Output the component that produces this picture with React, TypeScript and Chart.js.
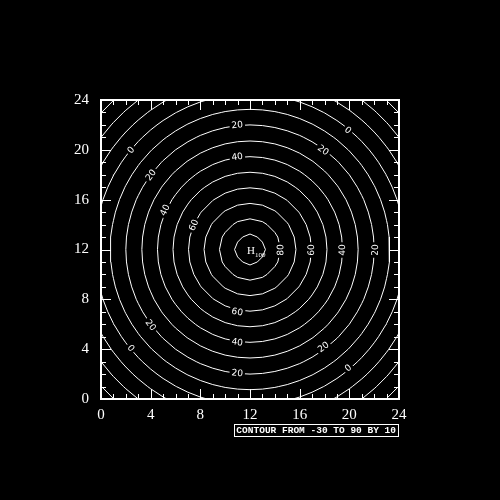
import React, { useEffect, useRef } from 'react';
import { Chart, registerables } from 'chart.js';

Chart.register(...registerables);

// ---- data ----
const axisTicks = [0, 4, 8, 12, 16, 20, 24];
const minorTicks = [0, 1, 2, 3, 4, 5, 6, 7, 8, 9, 10, 11, 12, 13, 14, 15, 16, 17, 18, 19, 20, 21, 22, 23, 24];
const gridX = [0, 1, 2, 3, 4, 5, 6, 7, 8, 9, 10, 11, 12, 13, 14, 15, 16, 17, 18, 19, 20, 21, 22, 23, 24];
const gridY = [0, 1, 2, 3, 4, 5, 6, 7, 8, 9, 10, 11, 12, 13, 14, 15, 16, 17, 18, 19, 20, 21, 22, 23, 24];
const contourLevels = [-30, -20, -10, 0, 10, 20, 30, 40, 50, 60, 70, 80, 90];
const contourRadii = [16.25, 15, 13.75, 12.5, 11.25, 10, 8.7, 7.45, 6.2, 4.95, 3.7, 2.45, 1.25];
const contourStep = 10;
const peakValue = 100;
const peakX = 12;
const peakY = 12;
const labelLevels = [20, 40, 60, 40, 20, 80, 60, 40, 20, 0, 20, 40, 60, 0, 20, 20, 0, 20, 0];
const labelX = [10.97, 10.97, 10.97, 10.97, 10.97, 14.45, 16.93, 19.42, 22.07, 2.41, 4.01, 5.14, 7.46, 19.9, 17.9, 4.01, 2.41, 17.9, 19.9];
const labelY = [22.0, 19.45, 7.0, 4.57, 2.09, 11.96, 11.96, 11.96, 11.96, 19.98, 17.98, 15.17, 13.96, 21.59, 19.98, 5.94, 4.09, 4.17, 2.49];

type P = [number, number];

// radial profile through the read contour radii
function profile(r: number): number {
  const pr = [0, ...contourRadii.slice().reverse()];
  const pv = [peakValue, ...contourLevels.slice().reverse()];
  for (let i = 0; i < pr.length - 1; i++) {
    if (r <= pr[i + 1]) {
      const t = (r - pr[i]) / (pr[i + 1] - pr[i]);
      return pv[i] + (pv[i + 1] - pv[i]) * t;
    }
  }
  const n = pr.length - 1;
  const slope = (pv[n] - pv[n - 1]) / (pr[n] - pr[n - 1]);
  return pv[n] + slope * (r - pr[n]);
}

const field: number[][] = gridY.map((y) => gridX.map((x) => profile(Math.hypot(x - peakX, y - peakY))));

function contourSegments(level: number): [P, P][] {
  const segs: [P, P][] = [];
  for (let j = 0; j < gridY.length - 1; j++) {
    for (let i = 0; i < gridX.length - 1; i++) {
      const x0 = gridX[i], x1 = gridX[i + 1], y0 = gridY[j], y1 = gridY[j + 1];
      const va = field[j][i], vb = field[j][i + 1], vc = field[j + 1][i + 1], vd = field[j + 1][i];
      const pts: P[] = [];
      const edge = (xa: number, ya: number, v1: number, xb: number, yb: number, v2: number) => {
        if ((v1 >= level) !== (v2 >= level)) {
          const t = (level - v1) / (v2 - v1);
          pts.push([xa + (xb - xa) * t, ya + (yb - ya) * t]);
        }
      };
      edge(x0, y0, va, x1, y0, vb); // bottom
      edge(x1, y0, vb, x1, y1, vc); // right
      edge(x0, y1, vd, x1, y1, vc); // top
      edge(x0, y0, va, x0, y1, vd); // left
      if (pts.length === 2) segs.push([pts[0], pts[1]]);
      else if (pts.length === 4) {
        const c = (va + vb + vc + vd) / 4;
        if ((c >= level) === (va >= level)) {
          segs.push([pts[0], pts[1]]);
          segs.push([pts[2], pts[3]]);
        } else {
          segs.push([pts[3], pts[0]]);
          segs.push([pts[1], pts[2]]);
        }
      }
    }
  }
  return segs;
}

function chain(segs: [P, P][]): P[][] {
  const key = (p: P) => p[0].toFixed(5) + ',' + p[1].toFixed(5);
  const map = new Map<string, number[]>();
  segs.forEach((s, idx) => {
    for (const p of s) {
      const k = key(p);
      if (!map.has(k)) map.set(k, []);
      map.get(k)!.push(idx);
    }
  });
  const used = new Array(segs.length).fill(false);
  const lines: P[][] = [];
  for (let s = 0; s < segs.length; s++) {
    if (used[s]) continue;
    used[s] = true;
    const line: P[] = [segs[s][0], segs[s][1]];
    for (const forward of [true, false]) {
      let ext = true;
      while (ext) {
        ext = false;
        const end = forward ? line[line.length - 1] : line[0];
        const ke = key(end);
        for (const idx of map.get(ke) || []) {
          if (used[idx]) continue;
          used[idx] = true;
          const sg = segs[idx];
          const other = key(sg[0]) === ke ? sg[1] : sg[0];
          if (forward) line.push(other);
          else line.unshift(other);
          ext = true;
          break;
        }
      }
    }
    lines.push(line);
  }
  return lines;
}

function buildDatasets() {
  return contourLevels.map((lev) => {
    const lines = chain(contourSegments(lev));
    const data: { x: number; y: number }[] = [];
    lines.forEach((ln) => {
      ln.forEach((p) => data.push({ x: p[0], y: p[1] }));
      data.push({ x: NaN, y: NaN });
    });
    return {
      label: String(lev),
      data,
      showLine: true,
      borderColor: '#ffffff',
      borderWidth: 1,
      pointRadius: 0,
      pointHoverRadius: 0,
      spanGaps: false,
      tension: 0,
      fill: false,
    };
  });
}

const decorPlugin = {
  id: 'decor',
  beforeDraw(chart: any) {
    const ctx = chart.ctx;
    ctx.save();
    ctx.fillStyle = '#000';
    ctx.fillRect(0, 0, chart.width, chart.height);
    ctx.restore();
  },
  afterDatasetsDraw(chart: any) {
    const ctx = chart.ctx;
    const xs = chart.scales.x;
    const ys = chart.scales.y;
    const area = chart.chartArea;
    ctx.save();
    // contour labels
    const cx = xs.getPixelForValue(peakX);
    const cy = ys.getPixelForValue(peakY);
    ctx.font = '9px "DejaVu Sans"';
    ctx.textAlign = 'center';
    ctx.textBaseline = 'middle';
    for (let i = 0; i < labelLevels.length; i++) {
      const px = xs.getPixelForValue(labelX[i]);
      const py = ys.getPixelForValue(labelY[i]);
      const dx = px - cx, dy = py - cy;
      let ang = Math.atan2(-dx, dy);
      if (ang > Math.PI / 2 + 1e-6) ang -= Math.PI;
      if (ang <= -Math.PI / 2 + 1e-6) ang += Math.PI;
      const txt = String(labelLevels[i]);
      const w = ctx.measureText(txt).width;
      ctx.save();
      ctx.translate(px, py);
      ctx.rotate(ang);
      ctx.fillStyle = '#000';
      ctx.fillRect(-w / 2 - 2, -5, w + 4, 10);
      ctx.fillStyle = '#fff';
      ctx.fillText(txt, 0, 0.5);
      ctx.restore();
    }
    // high marker
    ctx.fillStyle = '#fff';
    ctx.textAlign = 'left';
    ctx.textBaseline = 'alphabetic';
    ctx.font = '11px "Liberation Serif"';
    ctx.fillText('H', cx - 3, cy + 4);
    const hw = ctx.measureText('H').width;
    ctx.font = '7px "Liberation Serif"';
    ctx.fillText(String(peakValue), cx - 3 + hw, cy + 7);

    // ticks (inward) on four sides
    ctx.strokeStyle = '#fff';
    ctx.lineWidth = 1;
    ctx.beginPath();
    for (const v of minorTicks) {
      const major = axisTicks.includes(v);
      const len = major ? 10 : 5;
      const x = Math.round(xs.getPixelForValue(v)) + 0.5;
      ctx.moveTo(x, area.bottom);
      ctx.lineTo(x, area.bottom - len);
      ctx.moveTo(x, area.top);
      ctx.lineTo(x, area.top + len);
      const y = Math.round(ys.getPixelForValue(v)) + 0.5;
      ctx.moveTo(area.left, y);
      ctx.lineTo(area.left + len, y);
      ctx.moveTo(area.right, y);
      ctx.lineTo(area.right - len, y);
    }
    ctx.stroke();
    // frame
    ctx.lineWidth = 2;
    ctx.strokeRect(area.left, area.top, area.right - area.left, area.bottom - area.top);

    // caption box
    const cap = `CONTOUR FROM ${contourLevels[0]} TO ${contourLevels[contourLevels.length - 1]} BY ${contourStep}`;
    ctx.font = 'bold 9.5px "Liberation Mono"';
    const cw = ctx.measureText(cap).width;
    const bx1 = area.right - 1;
    const bx0 = bx1 - cw - 4;
    const by0 = area.bottom + 25;
    ctx.lineWidth = 1;
    ctx.strokeRect(Math.round(bx0) + 0.5, by0 + 0.5, Math.round(bx1 - bx0), 12);
    ctx.textBaseline = 'middle';
    ctx.fillText(cap, bx0 + 2, by0 + 7);
    ctx.restore();
  },
};

export default function App() {
  const ref = useRef<HTMLCanvasElement | null>(null);
  useEffect(() => {
    document.body.style.background = '#000';
    const canvas = ref.current!;
    const chart = new Chart(canvas, {
      type: 'scatter',
      data: { datasets: buildDatasets() as any },
      options: {
        animation: false,
        responsive: false,
        devicePixelRatio: 1,
        events: [],
        layout: { padding: { left: 0, top: 100, right: 101, bottom: 0 } },
        plugins: { legend: { display: false }, tooltip: { enabled: false }, title: { display: false } },
        scales: {
          x: {
            type: 'linear',
            min: 0,
            max: 24,
            afterFit: (s: any) => { s.height = 101; },
            afterBuildTicks: (s: any) => { s.ticks = axisTicks.map((v) => ({ value: v })); },
            ticks: { color: '#fff', font: { family: 'Liberation Serif', size: 15 }, padding: 7, maxRotation: 0 },
            grid: { display: false, drawTicks: false },
            border: { display: false },
          },
          y: {
            type: 'linear',
            min: 0,
            max: 24,
            afterFit: (s: any) => { s.width = 101; },
            afterBuildTicks: (s: any) => { s.ticks = axisTicks.map((v) => ({ value: v })); },
            ticks: { color: '#fff', font: { family: 'Liberation Serif', size: 15 }, padding: 12 },
            grid: { display: false, drawTicks: false },
            border: { display: false },
          },
        },
      },
      plugins: [decorPlugin],
    });
    return () => chart.destroy();
  }, []);
  return (
    <div style={{ position: 'fixed', left: 0, top: 0, width: 500, height: 500, background: '#000' }}>
      <canvas ref={ref} width={500} height={500} style={{ display: 'block', width: 500, height: 500 }} />
    </div>
  );
}
